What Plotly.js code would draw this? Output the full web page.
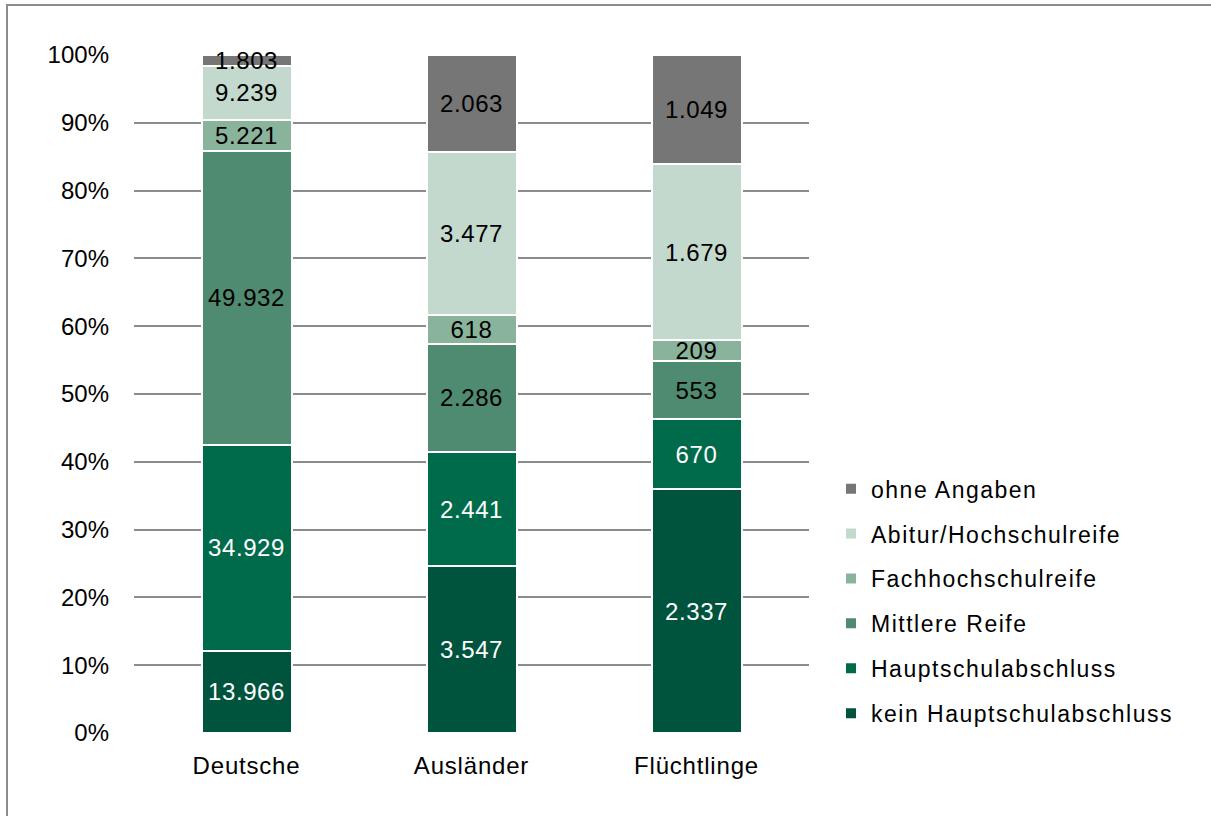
<!DOCTYPE html>
<html>
<head>
<meta charset="utf-8">
<script src="https://cdn.plot.ly/plotly-3.0.1.min.js"></script>
<style>
html,body{margin:0;padding:0;background:#fff;}
#wrap{position:relative;width:1211px;height:816px;overflow:hidden;}
#frame{position:absolute;left:6px;top:4px;width:1300px;height:900px;border-left:2px solid #8c8c8c;border-top:2px solid #8c8c8c;pointer-events:none;z-index:5;}
#chart{position:absolute;left:0;top:0;width:1211px;height:816px;}
.legendtext{letter-spacing:1.5px;}
.xtick text{letter-spacing:0.8px;}
.bartext{letter-spacing:0.6px;}
</style>
</head>
<body>
<div id="wrap"><div id="chart"></div><div id="frame"></div></div>
<script>
const categories = ['Deutsche', 'Ausländer', 'Flüchtlinge'];
const keinHauptschulabschluss = [13966, 3547, 2337];
const hauptschulabschluss = [34929, 2441, 670];
const mittlereReife = [49932, 2286, 553];
const fachhochschulreife = [5221, 618, 209];
const abitur = [9239, 3477, 1679];
const ohneAngaben = [1803, 2063, 1049];
const seriesNames = ['kein Hauptschulabschluss', 'Hauptschulabschluss', 'Mittlere Reife', 'Fachhochschulreife', 'Abitur/Hochschulreife', 'ohne Angaben'];

const seriesValues = [keinHauptschulabschluss, hauptschulabschluss, mittlereReife, fachhochschulreife, abitur, ohneAngaben];
const colors = ['#00533c', '#006b4b', '#4f8b70', '#8ab39b', '#c4d9cd', '#767676'];
const textColors = ['#ffffff', '#ffffff', '#000000', '#000000', '#000000', '#000000'];

function de(n) { return String(n).replace(/\B(?=(\d{3})+(?!\d))/g, '.'); }

const FONT = 'Liberation Sans, Arial, sans-serif';
const FS = 24;
const LFS = 23;

const traces = seriesValues.map((vals, i) => ({
  type: 'bar',
  name: seriesNames[i],
  x: categories,
  y: vals,
  text: vals.map(de),
  textposition: 'inside',
  insidetextanchor: 'middle',
  constraintext: 'none',
  cliponaxis: false,
  textangle: 0,
  insidetextfont: {family: FONT, size: FS, color: textColors[i]},
  marker: {color: colors[i], line: {color: '#ffffff', width: 2}},
  legendgroup: 'g' + i,
  legendrank: 1000 - i,
  hoverinfo: 'skip'
}));

const layout = {
  width: 1211,
  height: 816,
  margin: {l: 134, r: 402, t: 55, b: 83},
  paper_bgcolor: '#ffffff',
  plot_bgcolor: '#ffffff',
  barmode: 'stack',
  barnorm: 'percent',
  bargap: 0.6,
  font: {family: FONT, size: FS, color: '#000000'},
  showlegend: true,
  legend: {
    x: 1.0326, xanchor: 'left',
    y: 0.392, yanchor: 'top',
    traceorder: 'grouped',
    tracegroupgap: 12,
    font: {family: FONT, size: LFS, color: '#000000'},
    itemwidth: 30,
    bgcolor: 'rgba(0,0,0,0)'
  },
  xaxis: {
    type: 'category',
    showgrid: false,
    showline: false,
    zeroline: false,
    ticks: '',
    ticklabelstandoff: 16,
    tickfont: {family: FONT, size: FS, color: '#000000'}
  },
  yaxis: {
    range: [0, 100],
    tick0: 0,
    dtick: 10,
    ticksuffix: '%',
    showgrid: true,
    gridcolor: '#8c8c8c',
    gridwidth: 2,
    zeroline: false,
    showline: false,
    ticks: '',
    ticklabelstandoff: 24,
    tickfont: {family: FONT, size: FS, color: '#000000'}
  }
};

Plotly.newPlot('chart', traces, layout, {displayModeBar: false, staticPlot: true});
</script>
</body>
</html>
